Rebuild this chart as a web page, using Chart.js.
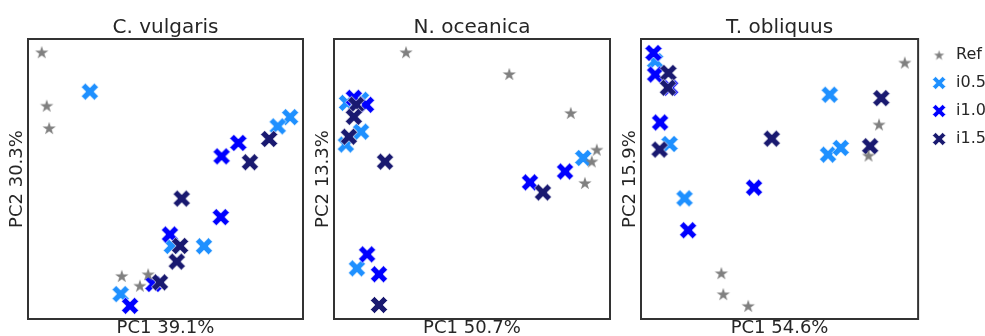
<!DOCTYPE html>
<html>
<head>
<meta charset="utf-8">
<script src="https://cdn.jsdelivr.net/npm/chart.js@4.4.1/dist/chart.umd.min.js"></script>
<style>
  html, body { margin: 0; padding: 0; background: #fff; overflow: hidden; }
  body { width: 985px; height: 336px; position: relative; }
  canvas { position: absolute; top: 0; }
</style>
</head>
<body>
<canvas id="c1" width="305" height="337" style="left:0px"></canvas>
<canvas id="c2" width="306" height="337" style="left:306px"></canvas>
<canvas id="c3" width="383" height="337" style="left:613px"></canvas>
<script>
// PCA scores (scaled 0..100 on each axis)
const seriesNames = ["Ref", "i0.5", "i1.0", "i1.5"];
const panelTitles = ["C. vulgaris", "N. oceanica", "T. obliquus"];
const pc1Labels = ["PC1 39.1%", "PC1 50.7%", "PC1 54.6%"];
const pc2Labels = ["PC2 30.3%", "PC2 13.3%", "PC2 15.9%"];

const cvRef = [[5.0, 95.3], [6.8, 76.2], [7.7, 68.2], [34.1, 15.4], [43.7, 16.0], [40.7, 11.9]];
const cvI05 = [[22.5, 81.2], [95.3, 72.1], [90.8, 68.8], [64.0, 26.0], [52.3, 26.1], [33.7, 8.9]];
const cvI10 = [[70.4, 58.1], [76.5, 62.9], [70.1, 36.4], [51.6, 30.2], [37.1, 4.7], [45.6, 12.5]];
const cvI15 = [[87.7, 64.3], [80.7, 56.0], [55.9, 43.0], [55.3, 26.1], [54.1, 20.5], [48.0, 13.1]];

const noRef = [[26.1, 95.3], [63.5, 87.5], [85.8, 73.6], [95.2, 60.5], [93.4, 56.3], [90.9, 48.6]];
const noI05 = [[4.7, 77.2], [9.8, 78.3], [9.8, 66.9], [4.3, 62.3], [8.3, 18.1], [90.3, 57.5]];
const noI10 = [[7.2, 79.0], [11.6, 76.5], [12.0, 23.1], [16.3, 16.0], [71.0, 48.8], [83.7, 52.7]];
const noI15 = [[8.0, 76.5], [7.2, 72.2], [5.4, 65.1], [18.5, 56.2], [16.3, 5.0], [75.7, 45.2]];

const toRef = [[95.2, 91.6], [85.9, 69.5], [82.1, 58.4], [29.0, 16.4], [29.7, 8.9], [38.7, 4.7]];
const toI05 = [[5.1, 92.1], [10.3, 62.5], [15.7, 43.1], [68.1, 80.1], [67.5, 58.7], [72.1, 61.1]];
const toI10 = [[4.5, 95.0], [5.1, 87.3], [10.5, 82.6], [6.9, 70.2], [17.0, 31.7], [40.8, 46.9]];
const toI15 = [[9.9, 87.9], [9.7, 82.6], [6.7, 60.5], [47.2, 64.4], [86.7, 78.9], [82.7, 61.7]];

const panels = [
  [cvRef, cvI05, cvI10, cvI15],
  [noRef, noI05, noI10, noI15],
  [toRef, toI05, toI10, toI15]
];

const colors = ["#808080", "#1e90ff", "#0000ff", "#191970"];
const textColor = "#262626";
const font = "'DejaVu Sans', sans-serif";

// filled "X" marker like matplotlib's
function makeX(color, half, h) {
  const s = Math.ceil(half * 2) + 4;
  const c = document.createElement("canvas");
  c.width = c.height = s;
  const g = c.getContext("2d");
  g.translate(s / 2, s / 2);
  g.rotate(Math.PI / 4);
  const L = half * Math.SQRT2 - h;
  const pts = [[-h, -L], [h, -L], [h, -h], [L, -h], [L, h], [h, h], [h, L], [-h, L], [-h, h], [-L, h], [-L, -h], [-h, -h]];
  g.beginPath();
  pts.forEach((p, i) => i ? g.lineTo(p[0], p[1]) : g.moveTo(p[0], p[1]));
  g.closePath();
  g.fillStyle = color;
  g.fill();
  g.strokeStyle = "rgba(255,255,255,0.8)";
  g.lineWidth = 0.8;
  g.stroke();
  return c;
}

function makeStar(color, R) {
  const s = Math.ceil(R * 2) + 4;
  const c = document.createElement("canvas");
  c.width = c.height = s;
  const g = c.getContext("2d");
  g.translate(s / 2, s / 2 + R * 0.1);
  const r = R * 0.382;
  g.beginPath();
  for (let i = 0; i < 10; i++) {
    const rad = i % 2 ? r : R;
    const a = -Math.PI / 2 + i * Math.PI / 5;
    const x = rad * Math.cos(a), y = rad * Math.sin(a);
    i ? g.lineTo(x, y) : g.moveTo(x, y);
  }
  g.closePath();
  g.fillStyle = color;
  g.fill();
  return c;
}

const plotMarkers = colors.map((c, i) => i === 0 ? makeStar(c, 7) : makeX(c, 8.6, 2.9));
const legendMarkers = colors.map((c, i) => i === 0 ? makeStar(c, 5.4) : makeX(c, 6.6, 2.2));

const frame = {
  id: "frame",
  afterDatasetsDraw(chart) {
    const { ctx, chartArea: a } = chart;
    ctx.save();
    ctx.strokeStyle = "#333";
    ctx.lineWidth = 2;
    ctx.strokeRect(a.left, a.top, a.right - a.left, a.bottom - a.top);
    ctx.restore();
  }
};

// draw order: i0.5 below, then i1.0, i1.5, Ref on top
const drawOrder = [0, 3, 2, 1];

panels.forEach((series, p) => {
  const showLegend = p === 2;
  new Chart(document.getElementById("c" + (p + 1)), {
    type: "scatter",
    data: {
      datasets: series.map((pts, i) => ({
        label: seriesNames[i],
        data: pts.map(v => ({ x: v[0], y: v[1] })),
        pointStyle: plotMarkers[i],
        backgroundColor: colors[i],
        borderColor: colors[i],
        order: drawOrder[i],
        clip: false
      }))
    },
    options: {
      responsive: false,
      animation: false,
      events: [],
      layout: { autoPadding: false, padding: { right: showLegend ? 0 : 2 } },
      plugins: {
        tooltip: { enabled: false },
        title: {
          display: true,
          text: panelTitles[p],
          fullSize: false,
          color: textColor,
          font: { family: font, size: 20, weight: "normal", lineHeight: 1.1 },
          padding: { top: 17, bottom: 0 }
        },
        legend: {
          display: showLegend,
          position: "right",
          align: "start",
          title: { display: true, text: "", font: { size: 13, lineHeight: 1 }, padding: { top: 22, bottom: 0 } },
          labels: {
            usePointStyle: true,
            pointStyleWidth: 18,
            padding: 12,
            color: textColor,
            font: { family: font, size: 16 },
            generateLabels: (chart) => seriesNames.map((name, i) => ({
              text: name,
              fillStyle: colors[i],
              strokeStyle: colors[i],
              lineWidth: 0,
              pointStyle: legendMarkers[i],
              fontColor: textColor,
              hidden: false,
              datasetIndex: i
            }))
          }
        }
      },
      scales: {
        x: {
          type: "linear", min: 0, max: 100,
          ticks: { display: false },
          grid: { display: false, drawTicks: false },
          border: { display: false },
          title: {
            display: true, text: pc1Labels[p], color: textColor,
            font: { family: font, size: 18, lineHeight: 1 },
            padding: 0
          }
        },
        y: {
          type: "linear", min: 0, max: 100,
          ticks: { display: false },
          grid: { display: false, drawTicks: false },
          border: { display: false },
          title: {
            display: true, text: pc2Labels[p], color: textColor,
            font: { family: font, size: 18, lineHeight: 1 },
            padding: { top: 8.5, bottom: 1.5 }
          }
        }
      }
    },
    plugins: [frame]
  });
});
</script>
</body>
</html>
